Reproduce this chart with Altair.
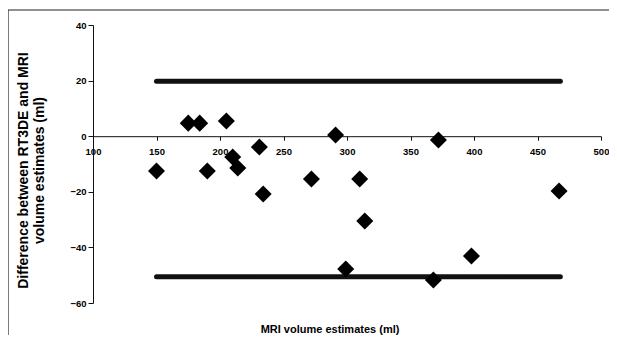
import altair as alt
import pandas as pd

# Data
mri_volume = [150, 175, 184, 205, 210, 214, 190, 231, 234, 272, 291, 310, 314, 299, 368, 372, 398, 467]
difference = [-12.5, 4.7, 4.7, 5.5, -7.5, -11.4, -12.5, -3.9, -20.8, -15.4, 0.4, -15.4, -30.5, -47.8, -51.7, -1.4, -43.1, -19.7]
limit_values = [19.8, -50.6]
limit_start = [150, 150]
limit_end = [468, 468]
x_ticks = [100, 150, 200, 250, 300, 350, 400, 450, 500]
y_ticks = [-60, -40, -20, 0, 20, 40]

W, H = 508, 278
x_dom = [100, 500]
y_dom = [-60, 40]
zero_y = H * (y_dom[1] - 0) / (y_dom[1] - y_dom[0])

pts = pd.DataFrame({"mri": mri_volume, "diff": difference})
lims = pd.DataFrame({"x": limit_start, "x2": limit_end, "y": limit_values})

FONT = "Liberation Sans"

xscale = alt.Scale(domain=x_dom, nice=False, zero=False)
yscale = alt.Scale(domain=y_dom, nice=False, zero=False)

xaxis = alt.Axis(
    values=x_ticks, offset=-(H - zero_y), grid=False, labelFlush=False,
    labelFont=FONT, labelFontSize=9.5, labelFontWeight="bold", labelColor="#000",
    labelPadding=6, tickSize=4, tickColor="#111", domainColor="#111",
    title="MRI volume estimates (ml)", titleFont=FONT, titleFontSize=11,
    titleFontWeight="bold", titleColor="#000", titleX=236.5, titleY=196,
    titleAlign="center", titleBaseline="alphabetic",
)
yaxis = alt.Axis(
    values=y_ticks, grid=False, labelFlush=False,
    labelFont=FONT, labelFontSize=9.5, labelFontWeight="bold", labelColor="#000",
    labelPadding=2, tickSize=5, tickColor="#111", domainColor="#111",
    title=["Difference between RT3DE and MRI", "volume estimates (ml)"],
    titleFont=FONT, titleFontSize=14, titleFontWeight="bold", titleColor="#000",
    titleX=-70, titleY=145, titleAngle=270, titleAlign="center",
    titleBaseline="middle", titleLineHeight=16,
)

points = alt.Chart(pts).mark_point(
    shape="diamond", filled=True, size=290, color="#000", opacity=1
).encode(
    x=alt.X("mri:Q", scale=xscale, axis=xaxis),
    y=alt.Y("diff:Q", scale=yscale, axis=yaxis),
)

limits = alt.Chart(lims).mark_rule(
    strokeWidth=5, strokeCap="round", color="#111"
).encode(
    x=alt.X("x:Q", scale=xscale),
    x2="x2:Q",
    y=alt.Y("y:Q", scale=yscale),
)

frame_top = alt.Chart(pd.DataFrame({"a": [0]})).mark_rule(color="#222", strokeWidth=1.2).encode(
    x=alt.value(-85), x2=alt.value(W + 40), y=alt.value(-15)
)
frame_left = alt.Chart(pd.DataFrame({"a": [0]})).mark_rule(color="#222", strokeWidth=1.2).encode(
    x=alt.value(-85), y=alt.value(-15), y2=alt.value(H + 60)
)

chart = alt.layer(limits, points, frame_top, frame_left).properties(
    width=W, height=H,
    autosize=alt.AutoSizeParams(type="none"),
    padding={"left": 85, "top": 17, "right": 8, "bottom": 32},
    background="white",
).configure_view(stroke=None)

chart.save("out.html", embed_options={"renderer": "svg", "actions": False})
